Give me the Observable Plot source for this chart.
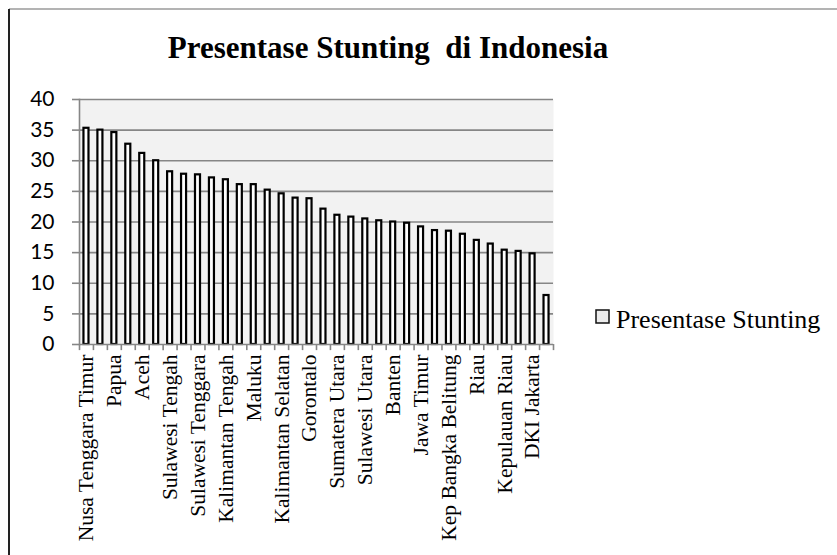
<!DOCTYPE html>
<html>
<head>
<meta charset="utf-8">
<script src="https://cdn.jsdelivr.net/npm/d3@7"></script>
<script src="https://cdn.jsdelivr.net/npm/@observablehq/plot@0.6"></script>
<style>
  html, body { margin: 0; padding: 0; background: #fff; }
  #chart svg { display: block; }
</style>
</head>
<body>
<div id="chart"></div>
<script>
const provinces = [
  "Nusa Tenggara Timur", "Sulawesi Barat", "Papua", "Nusa Tenggara Barat", "Aceh",
  "Papua Barat", "Sulawesi Tengah", "Kalimantan Barat", "Sulawesi Tenggara", "Sulawesi Selatan",
  "Kalimantan Tengah", "Maluku Utara", "Maluku", "Sumatera Barat", "Kalimantan Selatan",
  "Kalimantan Timur", "Gorontalo", "Kalimantan Utara", "Sumatera Utara", "Jawa Tengah",
  "Sulawesi Utara", "Jawa Barat", "Banten", "Bengkulu", "Jawa Timur",
  "Sumatera Selatan", "Kep Bangka Belitung", "Jambi", "Riau", "DI Yogyakarta",
  "Kepulauan Riau", "Lampung", "DKI Jakarta", "Bali"
];
const stunting = [
  35.3, 35.0, 34.6, 32.7, 31.2,
  30.0, 28.2, 27.8, 27.7, 27.2,
  26.9, 26.1, 26.1, 25.2, 24.6,
  23.9, 23.8, 22.1, 21.1, 20.8,
  20.5, 20.2, 20.0, 19.8, 19.2,
  18.6, 18.5, 18.0, 17.0, 16.4,
  15.4, 15.2, 14.8, 8.0
];
const yTicks = [0, 5, 10, 15, 20, 25, 30, 35, 40];
const chartTitle = "Presentase Stunting  di Indonesia";
const seriesName = "Presentase Stunting";

const data = provinces.map((p, i) => ({name: p, value: stunting[i], idx: i}));

const W = 837, H = 555;
const mL = 79, mR = 284, mT = 99, mB = 211;
const step = (W - mL - mR) / provinces.length;
const axisGray = "#868686";

const plot = Plot.plot({
  width: W, height: H,
  marginLeft: mL, marginRight: mR, marginTop: mT, marginBottom: mB,
  style: {background: "transparent", overflow: "visible"},
  x: {domain: provinces, paddingInner: 0.64, paddingOuter: 0.32, label: null},
  y: {domain: [0, 40], label: null},
  marks: [
    Plot.frame({fill: "#f2f2f2", stroke: null}),
    Plot.ruleY(yTicks.filter(v => v > 0), {stroke: axisGray, strokeWidth: 1.6}),
    // category boundary ticks
    Plot.ruleX(provinces, {x: d => d, y1: 0, y2: -1, dx: -step / 2, stroke: axisGray, strokeWidth: 1.6, clip: false}),
    Plot.ruleX([provinces[provinces.length - 1]], {x: d => d, y1: 0, y2: -1, dx: step / 2, stroke: axisGray, strokeWidth: 1.6, clip: false}),
    Plot.barY(data, {x: "name", y: "value", fill: "white", stroke: "black", strokeWidth: 2.2}),
    Plot.ruleY([0], {stroke: axisGray, strokeWidth: 1.6}),
    Plot.frame({anchor: "left", stroke: axisGray, strokeWidth: 1.6}),
    Plot.axisY({ticks: yTicks, tickSize: 7, tickPadding: 18, stroke: axisGray, strokeWidth: 1.6,
      fill: "black", fontSize: 21, fontFamily: "Lato", label: null}),
    Plot.axisX({tickSize: 0, tickRotate: -90, tickPadding: 10, label: null,
      tickFormat: (d) => provinces.indexOf(d) % 2 === 0 ? d : "",
      fontSize: 21.5, fontFamily: "Liberation Serif", fill: "black"})
  ]
});

document.getElementById("chart").appendChild(plot);

const svg = d3.select(plot);
// outer chart border (left and top edges visible)
svg.append("line").attr("x1", 9).attr("x2", W).attr("y1", 9).attr("y2", 9)
  .attr("stroke", "#9a9a9a").attr("stroke-width", 1.5);
svg.append("line").attr("x1", 9).attr("x2", 9).attr("y1", 9).attr("y2", H)
  .attr("stroke", "#222").attr("stroke-width", 2);

svg.append("text").text(chartTitle)
  .attr("x", 388).attr("y", 58).attr("text-anchor", "middle")
  .attr("font-family", "Liberation Serif").attr("font-weight", "bold")
  .attr("font-size", 31).attr("fill", "black").style("white-space", "pre");

const lg = svg.append("g");
lg.append("rect").attr("x", 596).attr("y", 310).attr("width", 13).attr("height", 13)
  .attr("fill", "#ececec").attr("stroke", "#111").attr("stroke-width", 1.5);
lg.append("text").text(seriesName).attr("x", 616).attr("y", 328)
  .attr("text-anchor", "start")
  .attr("font-family", "Liberation Serif").attr("font-size", 26).attr("fill", "black");
</script>
</body>
</html>
